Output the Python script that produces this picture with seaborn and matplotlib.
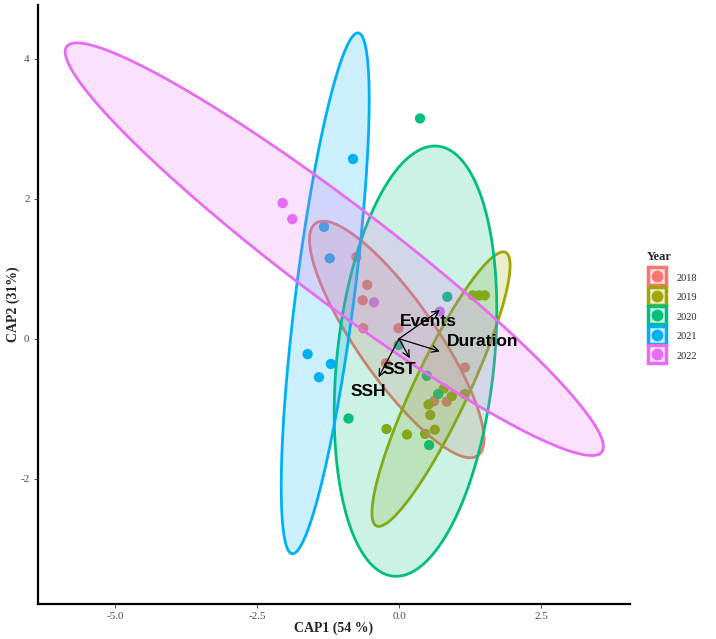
import numpy as np
import pandas as pd
import matplotlib.pyplot as plt
import seaborn as sns
from matplotlib.colors import to_rgba
from matplotlib.lines import Line2D

# CAP ordination scores per year
years = ["2018", "2019", "2020", "2021", "2022"]
colors = ["#F8766D", "#A3A500", "#00BF7D", "#00B0F6", "#E76BF3"]

cap1_2018 = [-0.75, -0.56, -0.64, -0.63, -0.01, -0.23, 1.16, 0.62, 0.84]
cap2_2018 = [1.17, 0.77, 0.55, 0.15, 0.15, -0.35, -0.41, -0.89, -0.90]

cap1_2019 = [1.30, 1.41, 1.51, 0.79, 0.93, 1.16, 0.52, 0.55, -0.22, 0.14, 0.46, 0.63]
cap2_2019 = [0.62, 0.62, 0.62, -0.71, -0.82, -0.79, -0.94, -1.09, -1.29, -1.37, -1.36, -1.30]

cap1_2020 = [0.37, 0.85, -0.01, 0.49, 0.69, -0.89, 0.53]
cap2_2020 = [3.15, 0.60, -0.09, -0.53, -0.79, -1.14, -1.52]

cap1_2021 = [-0.81, -1.32, -1.22, -1.61, -1.20, -1.41]
cap2_2021 = [2.57, 1.60, 1.15, -0.22, -0.36, -0.55]

cap1_2022 = [-2.05, -1.88, -0.44, 0.72]
cap2_2022 = [1.94, 1.71, 0.52, 0.39]

# 95% ellipses: centre and covariance-shape per year
ell_cx = [-0.04, 0.74, 0.29, -1.30, -1.14]
ell_cy = [-0.01, -0.72, -0.32, 0.65, 1.28]
ell_sxx = [2.36, 1.48, 2.05, 0.60, 22.47]
ell_syy = [2.86, 3.85, 9.46, 13.86, 8.70]
ell_sxy = [-2.19, 2.15, 1.05, 2.14, -13.37]

# environmental vectors
env_names = ["Events", "Duration", "SST", "SSH"]
env_x = [0.72, 0.72, 0.19, -0.36]
env_y = [0.41, -0.18, -0.28, -0.55]
lab_x = [0.52, 1.47, 0.00, -0.54]
lab_y = [0.25, -0.04, -0.44, -0.75]

xticks = [-5.0, -2.5, 0.0, 2.5]
xtick_labels = ["-5.0", "-2.5", "0.0", "2.5"]
yticks = [-2, 0, 2, 4]
ytick_labels = ["-2", "0", "2", "4"]

cap1 = [cap1_2018, cap1_2019, cap1_2020, cap1_2021, cap1_2022]
cap2 = [cap2_2018, cap2_2019, cap2_2020, cap2_2021, cap2_2022]
df = pd.concat([pd.DataFrame({"CAP1": a, "CAP2": b, "Year": y})
                for a, b, y in zip(cap1, cap2, years)], ignore_index=True)

sns.set_style("white")
plt.rcParams['font.family'] = ['Liberation Serif', 'DejaVu Serif']

fig = plt.figure(figsize=(7.16, 6.39), dpi=100)
ax = fig.add_axes([0.053, 0.055, 0.827, 0.937])

sns.scatterplot(data=df, x="CAP1", y="CAP2", hue="Year", palette=dict(zip(years, colors)),
                s=55, linewidth=0, legend=False, ax=ax, zorder=2)

t = np.linspace(0, 2 * np.pi, 300)
circle = np.vstack([np.cos(t), np.sin(t)])
for i, c in enumerate(colors):
    S = np.array([[ell_sxx[i], ell_sxy[i]], [ell_sxy[i], ell_syy[i]]])
    L = np.linalg.cholesky(S)
    pts = L @ circle
    ax.fill(ell_cx[i] + pts[0], ell_cy[i] + pts[1], facecolor=to_rgba(c, 0.2),
            edgecolor=c, linewidth=2, zorder=3 + i * 0.1)

for name, ex, ey, lx, ly in zip(env_names, env_x, env_y, lab_x, lab_y):
    ax.annotate("", xy=(ex, ey), xytext=(0, 0),
                arrowprops=dict(arrowstyle="->", color="black", lw=0.9, mutation_scale=12,
                                shrinkA=0, shrinkB=0), zorder=5)
    ax.text(lx, ly, name, ha="center", va="center", fontsize=12.5, fontweight="bold",
            color="black", family=["Liberation Sans", "DejaVu Sans"], zorder=6)

ax.set_xlim(-6.36, 4.07)
ax.set_ylim(-3.79, 4.77)
ax.set_xticks(xticks, xtick_labels)
ax.set_yticks(yticks, ytick_labels)
ax.tick_params(bottom=True, left=True, length=3, width=0.6, color="#333333",
               labelsize=8, labelcolor="#4D4D4D", pad=3)
for s in ["top", "right"]:
    ax.spines[s].set_visible(False)
for s in ["left", "bottom"]:
    ax.spines[s].set_linewidth(1.6)
    ax.spines[s].set_color("black")
ax.set_xlabel("CAP1 (54 %)", fontsize=10, fontweight="bold", labelpad=0)
ax.set_ylabel("CAP2 (31%)", fontsize=10, fontweight="bold", labelpad=0.5)

handles = [(Line2D([], [], marker="s", linestyle="", markersize=12.5,
                   markerfacecolor=to_rgba(c, 0.2), markeredgecolor=c, markeredgewidth=2.5),
            Line2D([], [], marker="o", color=c, linestyle="", markersize=7.5))
           for c in colors]
leg = fig.legend(handles, years, title="Year", loc="center left", bbox_to_anchor=(0.893, 0.521),
                 frameon=False, fontsize=7.5, title_fontproperties={"weight": "bold", "size": 9},
                 handlelength=1.9, handleheight=1.2, labelspacing=0.83, handletextpad=1.0,
                 borderpad=0.2, alignment="left")

fig.savefig("out.png", dpi=100)
